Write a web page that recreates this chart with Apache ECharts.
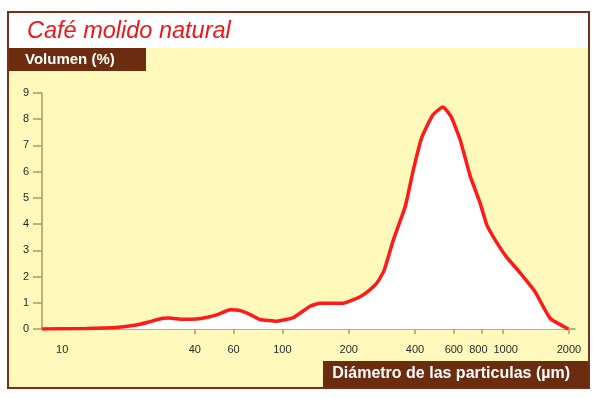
<!DOCTYPE html>
<html>
<head>
<meta charset="utf-8">
<script src="https://cdn.jsdelivr.net/npm/echarts@6/dist/echarts.min.js"></script>
<style>
html,body{margin:0;padding:0;background:#fff;}
#c{width:600px;height:399px;}
</style>
</head>
<body>
<div id="c"></div>
<script>
// Data
var diameters = [8.1, 12.9, 18.1, 21.7, 24.8, 28.7, 30.6, 35.4, 40.6, 45.1, 51.1, 57.9, 64.3, 71.4, 79.2, 94.3, 111.8, 133.6, 148.3, 188.6, 225, 250, 270, 290, 319, 361, 393, 429, 481, 535, 583, 641, 711, 790, 847, 924, 1044, 1187, 1403, 1641, 1988];
var volumes   = [0.0, 0.02, 0.07, 0.15, 0.27, 0.41, 0.42, 0.37, 0.38, 0.44, 0.56, 0.73, 0.70, 0.55, 0.36, 0.30, 0.43, 0.87, 0.98, 0.98, 1.23, 1.50, 1.78, 2.25, 3.40, 4.67, 6.07, 7.30, 8.15, 8.47, 8.10, 7.22, 5.85, 4.80, 3.97, 3.40, 2.73, 2.19, 1.42, 0.41, 0.0];
var xTickLabels = [10, 40, 60, 100, 200, 400, 600, 800, 1000, 2000];
var xTickMarks = [40, 60, 100, 200, 400, 600, 800, 1000, 2000];
var titleText = 'Café molido natural';
var yAxisTitle = 'Volumen (%)';
var xAxisTitle = 'Diámetro de las particulas (µm)';

var points = diameters.map(function (d, i) { return [d, volumes[i]]; });

var chart = echarts.init(document.getElementById('c'), null, {renderer: 'canvas'});
var brown = '#6b2c10';
var tan = '#b8936a';
chart.setOption({
  backgroundColor: '#ffffff',
  animation: false,
  graphic: [
    {type: 'rect', z: -10, shape: {x: 8, y: 12, width: 581, height: 376},
     style: {fill: '#fff9bc', stroke: '#7a2e18', lineWidth: 2}},
    {type: 'rect', z: -9, shape: {x: 9, y: 13, width: 579, height: 35},
     style: {fill: '#ffffff'}},
    {type: 'rect', z: -9, shape: {x: 9, y: 48, width: 137, height: 23},
     style: {fill: brown}},
    {type: 'rect', z: -9, shape: {x: 323, y: 361, width: 265, height: 26},
     style: {fill: brown}},
    {type: 'text', z: 10, x: 27, y: 31,
     style: {text: titleText, fill: '#f01418', font: 'italic 23.5px "Liberation Sans", Arial, sans-serif', textVerticalAlign: 'middle'}},
    {type: 'text', z: 10, x: 25, y: 60,
     style: {text: yAxisTitle, fill: '#ffffff', font: 'bold 15px "Liberation Sans", Arial, sans-serif', textVerticalAlign: 'middle'}},
    {type: 'text', z: 10, x: 570, y: 374,
     style: {text: xAxisTitle, fill: '#ffffff', font: 'bold 16px "Liberation Sans", Arial, sans-serif', textAlign: 'right', textVerticalAlign: 'middle'}}
  ],
  grid: {left: 42, right: 25, top: 93, bottom: 70, containLabel: false},
  xAxis: {
    type: 'log', logBase: 10, min: 8.1, max: 2130,
    axisLine: {show: true, lineStyle: {color: tan, width: 1.5}},
    axisTick: {show: true, length: 5, customValues: xTickMarks, lineStyle: {color: tan, width: 1.5}},
    axisLabel: {show: true, customValues: xTickLabels, color: '#2a2a2a', fontSize: 11, margin: 15,
                fontFamily: '"Liberation Sans", Arial, sans-serif',
                formatter: function (v) {
                  var s = String(Math.round(v));
                  if (Math.round(v) === 800) return '{l|' + s + '}';
                  if (Math.round(v) === 1000) return '{r|' + s + '}';
                  return s;
                },
                rich: {
                  l: {padding: [0, 6, 0, 0], color: '#2a2a2a', fontSize: 11, fontFamily: '"Liberation Sans", Arial, sans-serif'},
                  r: {padding: [0, 0, 0, 6], color: '#2a2a2a', fontSize: 11, fontFamily: '"Liberation Sans", Arial, sans-serif'}
                }},
    splitLine: {show: false},
    minorTick: {show: false}
  },
  yAxis: {
    type: 'value', min: 0, max: 9, interval: 1,
    axisLine: {show: true, lineStyle: {color: tan, width: 1.5}},
    axisTick: {show: true, length: 9, lineStyle: {color: tan, width: 1.5}},
    axisLabel: {color: '#2a2a2a', fontSize: 11, margin: 13, fontFamily: '"Liberation Sans", Arial, sans-serif'},
    splitLine: {show: false}
  },
  series: [{
    type: 'line',
    data: points,
    smooth: 0.15,
    showSymbol: false,
    lineStyle: {color: '#ff1a1a', width: 3.5},
    areaStyle: {color: '#ffffff', opacity: 1},
    z: 3
  }]
});
</script>
</body>
</html>
